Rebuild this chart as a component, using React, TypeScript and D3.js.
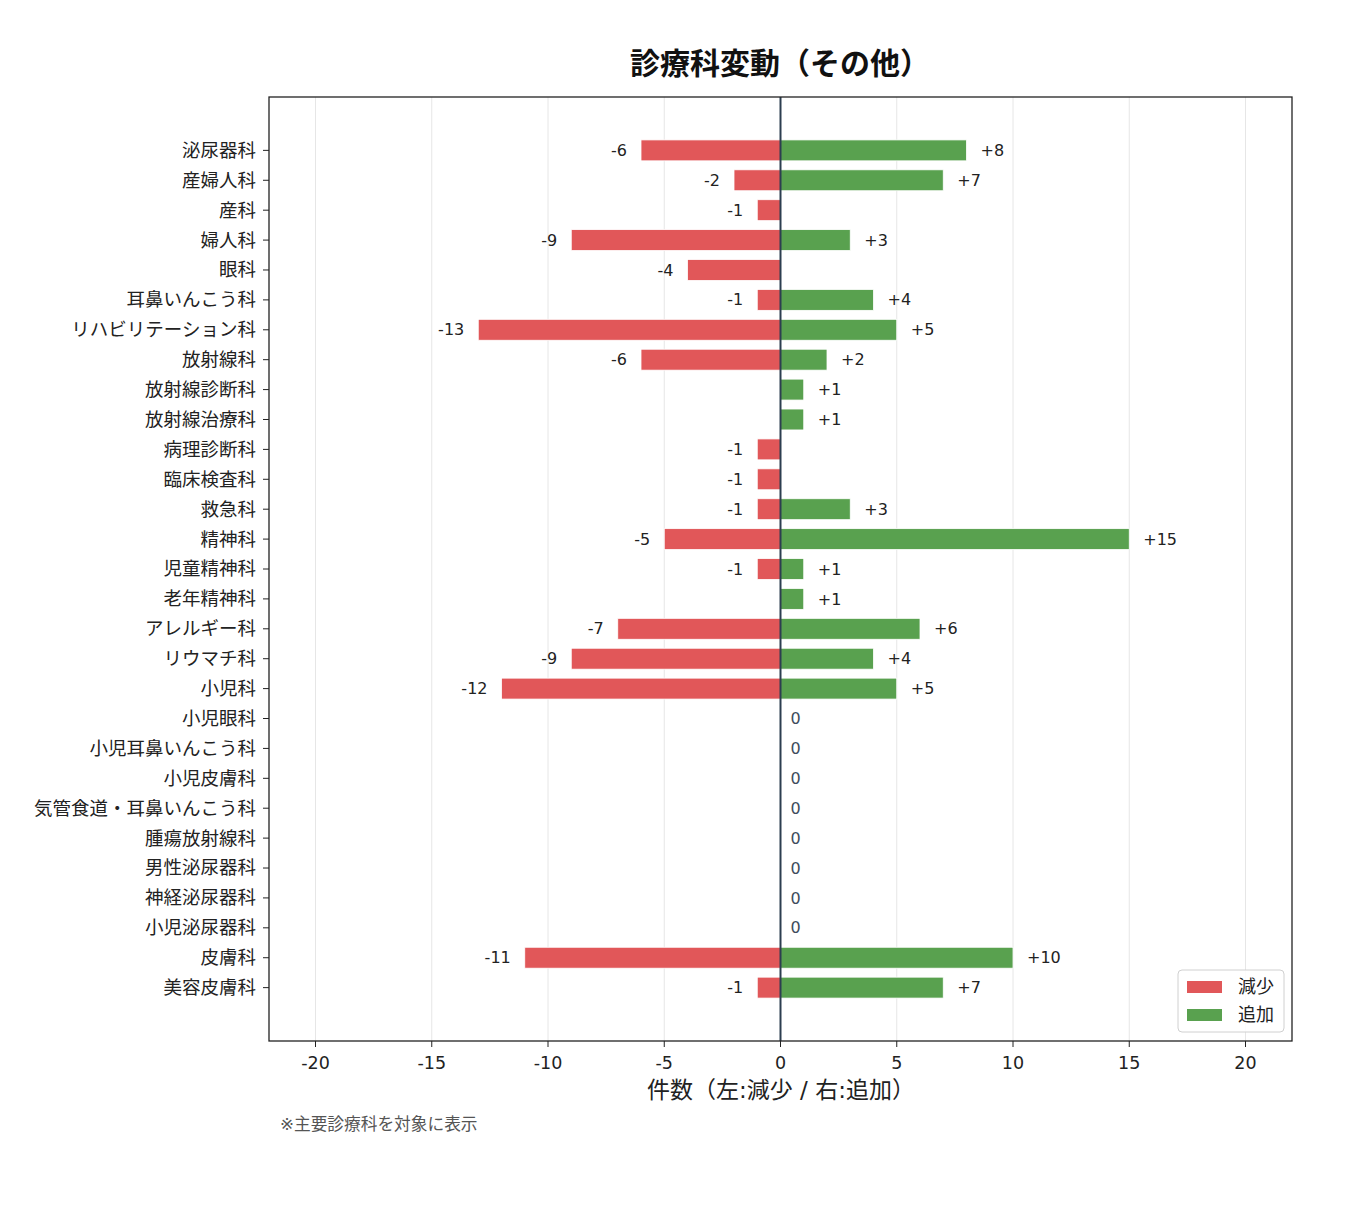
import React from 'react';
import * as d3 from 'd3';

// 診療科ごとの減少・追加件数
const departments = [
  '泌尿器科', '産婦人科', '産科', '婦人科', '眼科', '耳鼻いんこう科',
  'リハビリテーション科', '放射線科', '放射線診断科', '放射線治療科',
  '病理診断科', '臨床検査科', '救急科', '精神科', '児童精神科', '老年精神科',
  'アレルギー科', 'リウマチ科', '小児科', '小児眼科', '小児耳鼻いんこう科',
  '小児皮膚科', '気管食道・耳鼻いんこう科', '腫瘍放射線科', '男性泌尿器科',
  '神経泌尿器科', '小児泌尿器科', '皮膚科', '美容皮膚科',
];
const decreased = [-6, -2, -1, -9, -4, -1, -13, -6, 0, 0, -1, -1, -1, -5, -1, 0, -7, -9, -12, 0, 0, 0, 0, 0, 0, 0, 0, -11, -1];
const added = [8, 7, 0, 3, 0, 4, 5, 2, 1, 1, 0, 0, 3, 15, 1, 1, 6, 4, 5, 0, 0, 0, 0, 0, 0, 0, 0, 10, 7];
const xTicks = [-20, -15, -10, -5, 0, 5, 10, 15, 20];

const RED = '#e15759';
const GREEN = '#59a14f';
const FONT = '"DejaVu Sans", "Noto Sans CJK JP", sans-serif';

export default function App() {
  const left = 269, right = 1292, top = 97, bottom = 1041;
  const n = departments.length;

  const x = d3.scaleLinear().domain([-22, 22]).range([left, right]);
  const pad = 0.35 + 0.05 * (n - 1 + 0.7);
  const y = d3.scaleLinear().domain([-pad, n - 1 + pad]).range([top, bottom]);
  const barH = y(0.7) - y(0);

  return (
    <svg width={1346} height={1211} style={{ position: 'absolute', left: 0, top: 0, background: '#fff' }}
         fontFamily={FONT}>
      <text x={780} y={74} textAnchor="middle" fontSize={30} fontWeight="bold" fill="#111">
        診療科変動（その他）
      </text>

      {/* grid */}
      {xTicks.map(t => (
        <line key={'g' + t} x1={x(t)} x2={x(t)} y1={top} y2={bottom} stroke="#e6e6e6" strokeWidth={1} />
      ))}

      {/* bars */}
      {departments.map((d, i) => (
        <g key={d}>
          {decreased[i] < 0 && (
            <rect x={x(decreased[i])} y={y(i) - barH / 2} width={x(0) - x(decreased[i])} height={barH}
                  fill={RED} stroke="#fff" strokeWidth={0.8} />
          )}
          {added[i] > 0 && (
            <rect x={x(0)} y={y(i) - barH / 2} width={x(added[i]) - x(0)} height={barH}
                  fill={GREEN} stroke="#fff" strokeWidth={0.8} />
          )}
        </g>
      ))}

      {/* value labels */}
      {departments.map((d, i) => {
        const labels = [];
        if (decreased[i] < 0) {
          labels.push(
            <text key="l" x={x(decreased[i]) - 14} y={y(i)} dy="0.35em" textAnchor="end" fontSize={16} fill="#222">
              {decreased[i]}
            </text>
          );
        }
        if (added[i] > 0) {
          labels.push(
            <text key="r" x={x(added[i]) + 14} y={y(i)} dy="0.35em" textAnchor="start" fontSize={16} fill="#222">
              {'+' + added[i]}
            </text>
          );
        }
        if (decreased[i] === 0 && added[i] === 0) {
          labels.push(
            <text key="z" x={x(0) + 10} y={y(i)} dy="0.35em" textAnchor="start" fontSize={16} fill="#3d4c5c">
              0
            </text>
          );
        }
        return <g key={'t' + d}>{labels}</g>;
      })}

      {/* zero line */}
      <line x1={x(0)} x2={x(0)} y1={top} y2={bottom} stroke="#2c3e50" strokeWidth={2} />

      {/* frame */}
      <rect x={left} y={top} width={right - left} height={bottom - top} fill="none" stroke="#222" strokeWidth={1.3} />

      {/* y axis */}
      {departments.map((d, i) => (
        <g key={'y' + d}>
          <line x1={left - 6} x2={left} y1={y(i)} y2={y(i)} stroke="#222" strokeWidth={1} />
          <text x={left - 13} y={y(i)} dy="0.35em" textAnchor="end" fontSize={18.5} fill="#222">{d}</text>
        </g>
      ))}

      {/* x axis */}
      {xTicks.map(t => (
        <g key={'x' + t}>
          <line x1={x(t)} x2={x(t)} y1={bottom} y2={bottom + 6} stroke="#222" strokeWidth={1} />
          <text x={x(t)} y={bottom + 22} dy="0.35em" textAnchor="middle" fontSize={17.5} fill="#222">{t}</text>
        </g>
      ))}
      <text x={781} y={1090} dy="0.35em" textAnchor="middle" fontSize={23} fill="#222">
        件数（左:減少 / 右:追加）
      </text>

      {/* legend */}
      <g>
        <rect x={1178} y={970} width={106} height={62} rx={4} fill="#fff" fillOpacity={0.85} stroke="#d0d0d0" />
        <rect x={1187} y={981} width={35} height={12} fill={RED} />
        <text x={1238} y={987} dy="0.35em" fontSize={18} fill="#222">減少</text>
        <rect x={1187} y={1009} width={35} height={12} fill={GREEN} />
        <text x={1238} y={1015} dy="0.35em" fontSize={18} fill="#222">追加</text>
      </g>

      <text x={280} y={1124} dy="0.35em" fontSize={16.7} fill="#555">※主要診療科を対象に表示</text>
    </svg>
  );
}
